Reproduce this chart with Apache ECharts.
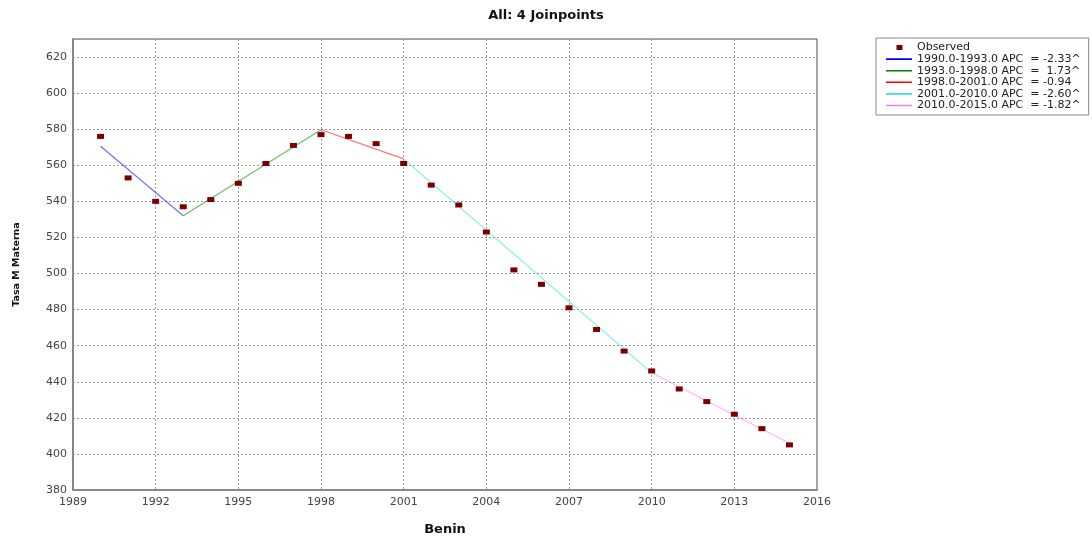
<!DOCTYPE html>
<html>
<head>
<meta charset="utf-8">
<style>
  html, body { margin: 0; padding: 0; background: #ffffff; }
  #chart { width: 1092px; height: 538px; }
</style>
<script src="https://cdn.jsdelivr.net/npm/echarts@6/dist/echarts.min.js"></script>
</head>
<body>
<div id="chart"></div>
<script>
// Observed maternal mortality rate, Benin
const years = [1990, 1991, 1992, 1993, 1994, 1995, 1996, 1997, 1998, 1999, 2000, 2001, 2002,
               2003, 2004, 2005, 2006, 2007, 2008, 2009, 2010, 2011, 2012, 2013, 2014, 2015];
const observed = [576, 553, 540, 537, 541, 550, 561, 571, 577, 576, 572, 561, 549,
                  538, 523, 502, 494, 481, 469, 457, 446, 436, 429, 422, 414, 405];

// Joinpoint segments: start/end years and fitted values at the ends
const segNames = [
  '1990.0-1993.0 APC  = -2.33^',
  '1993.0-1998.0 APC  =  1.73^',
  '1998.0-2001.0 APC  = -0.94',
  '2001.0-2010.0 APC  = -2.60^',
  '2010.0-2015.0 APC  = -1.82^'
];
const segYears = [[1990, 1993], [1993, 1998], [1998, 2001], [2001, 2010], [2010, 2015]];
const segFit = [[570.5, 532.0], [532.0, 579.7], [579.7, 563.5], [563.5, 445.0], [445.0, 405.9]];
const segColors = ['#0000ff', '#008000', '#ff0000', '#40e0d0', '#ee82ee'];

const xTicks = { min: 1989, max: 2016, step: 3 };
const yTicks = { min: 380, max: 630, step: 20 };

const font = 'DejaVu Sans';

// legend icons: the path corners fix the icon box, the inner shape is what shows
const squareIcon = 'path://M0 0h0.01v0.01h-0.01zM26 10h0.01v0.01h-0.01zM10.5 2.5h6v5h-6z';
const lineIcon = 'path://M0 0h0.01v0.01h-0.01zM26 10h0.01v0.01h-0.01zM0 4.2h26v1.6h-26z';

const series = [{
  name: 'Observed',
  type: 'scatter',
  data: years.map((y, i) => [y, observed[i]]),
  symbol: 'rect',
  symbolSize: [7, 5],
  itemStyle: { color: '#7a0000', opacity: 1 },
  z: 5
}];
segNames.forEach((name, i) => {
  series.push({
    name: name,
    type: 'line',
    data: segYears[i].map((yr, j) => [yr, segFit[i][j]]),
    symbol: 'none',
    lineStyle: { color: segColors[i], width: 1.3, opacity: 0.55 },
    itemStyle: { color: segColors[i] },
    z: 3
  });
});

const chart = echarts.init(document.getElementById('chart'), null, { renderer: 'canvas' });
chart.setOption({
  animation: false,
  backgroundColor: '#ffffff',
  title: {
    text: 'All: 4 Joinpoints',
    left: 'center',
    top: 4,
    textStyle: { fontFamily: font, fontSize: 13, fontWeight: 'bold', color: '#111' }
  },
  grid: {
    left: 73, right: 275, top: 39, bottom: 48,
    outerBoundsMode: 'none',
    show: true, borderColor: '#555', borderWidth: 1
  },
  legend: {
    orient: 'vertical',
    left: 876, top: 38,
    padding: [4, 8, 4, 10],
    borderColor: '#888', borderWidth: 1,
    itemWidth: 26, itemHeight: 10, itemGap: 0.6,
    textStyle: { fontFamily: font, fontSize: 11, lineHeight: 10.6, color: '#222' },
    data: [{ name: 'Observed', icon: squareIcon }]
      .concat(segNames.map(n => ({ name: n, icon: lineIcon })))
  },
  xAxis: {
    type: 'value',
    min: xTicks.min, max: xTicks.max, interval: xTicks.step,
    name: 'Benin',
    nameLocation: 'middle',
    nameGap: 33,
    nameTextStyle: { fontFamily: font, fontSize: 13, fontWeight: 'bold', color: '#111' },
    axisLine: { show: true, lineStyle: { color: '#888', width: 2 } },
    axisTick: { show: false },
    axisLabel: { fontFamily: font, fontSize: 11, color: '#444', margin: 7, formatter: v => String(v) },
    splitLine: { show: true, lineStyle: { color: '#999', type: [2, 2], width: 1 } }
  },
  yAxis: {
    type: 'value',
    min: yTicks.min, max: yTicks.max, interval: yTicks.step,
    name: 'Tasa M Materna',
    nameLocation: 'middle',
    nameGap: 51,
    nameTextStyle: { fontFamily: font, fontSize: 9.5, fontWeight: 'bold', color: '#111' },
    axisLine: { show: true, lineStyle: { color: '#888', width: 2 } },
    axisTick: { show: false },
    axisLabel: { fontFamily: font, fontSize: 11, color: '#444', margin: 6, showMaxLabel: false },
    splitLine: { show: true, lineStyle: { color: '#999', type: [2, 2], width: 1 } }
  },
  series: series
});
</script>
</body>
</html>
